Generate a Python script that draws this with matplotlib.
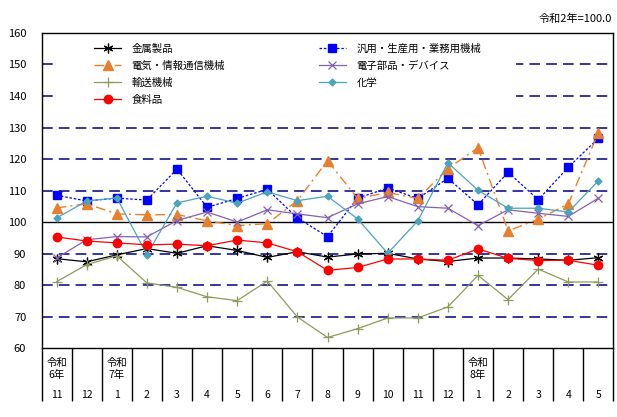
import matplotlib
matplotlib.use("Agg")
import matplotlib.pyplot as plt
from matplotlib.patches import Rectangle

plt.rcParams['font.family'] = ['Noto Sans CJK JP', 'DejaVu Sans']

# months (令和6年11月 .. 令和8年5月)
months = ['11', '12', '1', '2', '3', '4', '5', '6', '7', '8', '9', '10',
          '11', '12', '1', '2', '3', '4', '5']
year_marks = {0: '令和\n6年', 2: '令和\n7年', 14: '令和\n8年'}

kinzoku = [88.4, 87.4, 89.6, 91.6, 90.1, 92.5, 91.0, 88.8, 90.6, 88.9,
           89.9, 90.1, 88.3, 87.5, 88.6, 88.6, 88.3, 87.9, 88.7]
hanyo = [108.5, 106.7, 107.6, 107.0, 116.8, 104.7, 107.5, 110.4, 101.3, 95.4,
         107.6, 110.8, 107.5, 113.9, 105.5, 115.8, 107.1, 117.4, 126.6]
denki = [104.5, 105.8, 102.6, 102.3, 102.4, 100.4, 98.9, 99.5, 106.8, 119.5,
         107.5, 109.4, 107.5, 117.0, 123.6, 97.2, 100.9, 105.8, 128.4]
denshi = [88.6, 94.4, 95.4, 95.3, 100.5, 103.2, 100.0, 103.9, 102.6, 101.4,
          105.8, 108.1, 104.9, 104.4, 98.9, 103.9, 102.8, 101.8, 107.6]
yuso = [81.1, 86.5, 89.3, 80.7, 79.3, 76.3, 75.1, 81.3, 69.9, 63.4,
        66.2, 69.6, 69.6, 73.1, 83.1, 75.4, 85.1, 81.0, 81.0]
kagaku = [101.3, 106.7, 107.7, 89.7, 106.1, 108.2, 106.0, 109.6, 106.8, 108.2,
          101.0, 90.1, 100.4, 118.8, 110.1, 104.4, 104.4, 103.2, 113.1]
shokuryo = [95.3, 94.0, 93.4, 92.8, 93.0, 92.5, 94.3, 93.4, 90.6, 84.7,
            85.6, 88.3, 88.3, 87.9, 91.5, 88.5, 87.8, 87.9, 86.3]

yticks = [60, 70, 80, 90, 100, 110, 120, 130, 140, 150, 160]

fig = plt.figure(figsize=(6.17, 4.17), dpi=100)
ax = fig.add_axes([0.0673, 0.165, 0.927, 0.756])
x = list(range(len(months)))

# grid lines
for v in yticks[1:-1]:
    if v == 100:
        ax.axhline(v, color='black', lw=1.0, zorder=1)
    else:
        ax.axhline(v, color='#000080', lw=1.1, ls=(0, (7, 4)), zorder=1)

# white box behind the legend
ax.add_patch(Rectangle((0.029, 0.745), 0.80, 0.25, transform=ax.transAxes,
                       facecolor='white', edgecolor='none', zorder=1.5))

h_kin, = ax.plot(x, kinzoku, color='black', lw=0.9, marker=(6, 2, 0), ms=7,
                 mew=0.9, label='金属製品', zorder=3)
h_han, = ax.plot(x, hanyo, color='#0000FF', lw=0.9, ls=(0, (2, 1.5)), marker='s',
                 ms=6, label='汎用・生産用・業務用機械', zorder=3)
h_den, = ax.plot(x, denki, color='#E6802E', lw=1.0, ls=(0, (7, 3, 1.5, 3)),
                 marker='^', ms=6.5, label='電気・情報通信機械', zorder=3)
h_dsh, = ax.plot(x, denshi, color='#8461B0', lw=0.9, marker='x', ms=6, mew=0.9,
                 label='電子部品・デバイス', zorder=3)
h_yus, = ax.plot(x, yuso, color='#8C9B5A', lw=0.9, marker='+', ms=7, mew=0.9,
                 label='輸送機械', zorder=3)
h_kag, = ax.plot(x, kagaku, color='#4BA3BC', lw=0.9, marker='D', ms=3.5,
                 label='化学', zorder=3)
h_sho, = ax.plot(x, shokuryo, color='#FF0000', lw=0.9, marker='o', ms=6,
                 label='食料品', zorder=3)

ax.set_xlim(-0.5, len(months) - 0.5)
ax.set_ylim(60, 160)
ax.set_yticks(yticks)
ax.tick_params(axis='y', length=0, pad=11, labelsize=8)
for s in ax.spines.values():
    s.set_color('black')
    s.set_linewidth(1.0)

# category table under the axis
ax.set_xticks(x)
ax.set_xticklabels(months, fontsize=7.5)
ax.tick_params(axis='x', which='major', length=0, pad=30)
ax.set_xticks([i - 0.5 for i in range(len(months) + 1)], minor=True)
ax.tick_params(axis='x', which='minor', length=38, width=1.0, color='black',
               direction='out')
for i, lab in year_marks.items():
    ax.text(i, -0.032, lab, transform=ax.get_xaxis_transform(), ha='center',
            va='top', fontsize=7.5, linespacing=1.15)

fig.text(0.992, 0.955, '令和2年=100.0', ha='right', va='center', fontsize=8)

ax.legend(handles=[h_kin, h_den, h_yus, h_sho, h_han, h_dsh, h_kag],
          loc='upper left', bbox_to_anchor=(0.092, 0.966), ncol=2,
          frameon=False, fontsize=7.5, handlelength=2.6, handletextpad=1.0,
          columnspacing=9.0, labelspacing=0.65, borderpad=0, borderaxespad=0)

fig.savefig('out.png', dpi=100)
